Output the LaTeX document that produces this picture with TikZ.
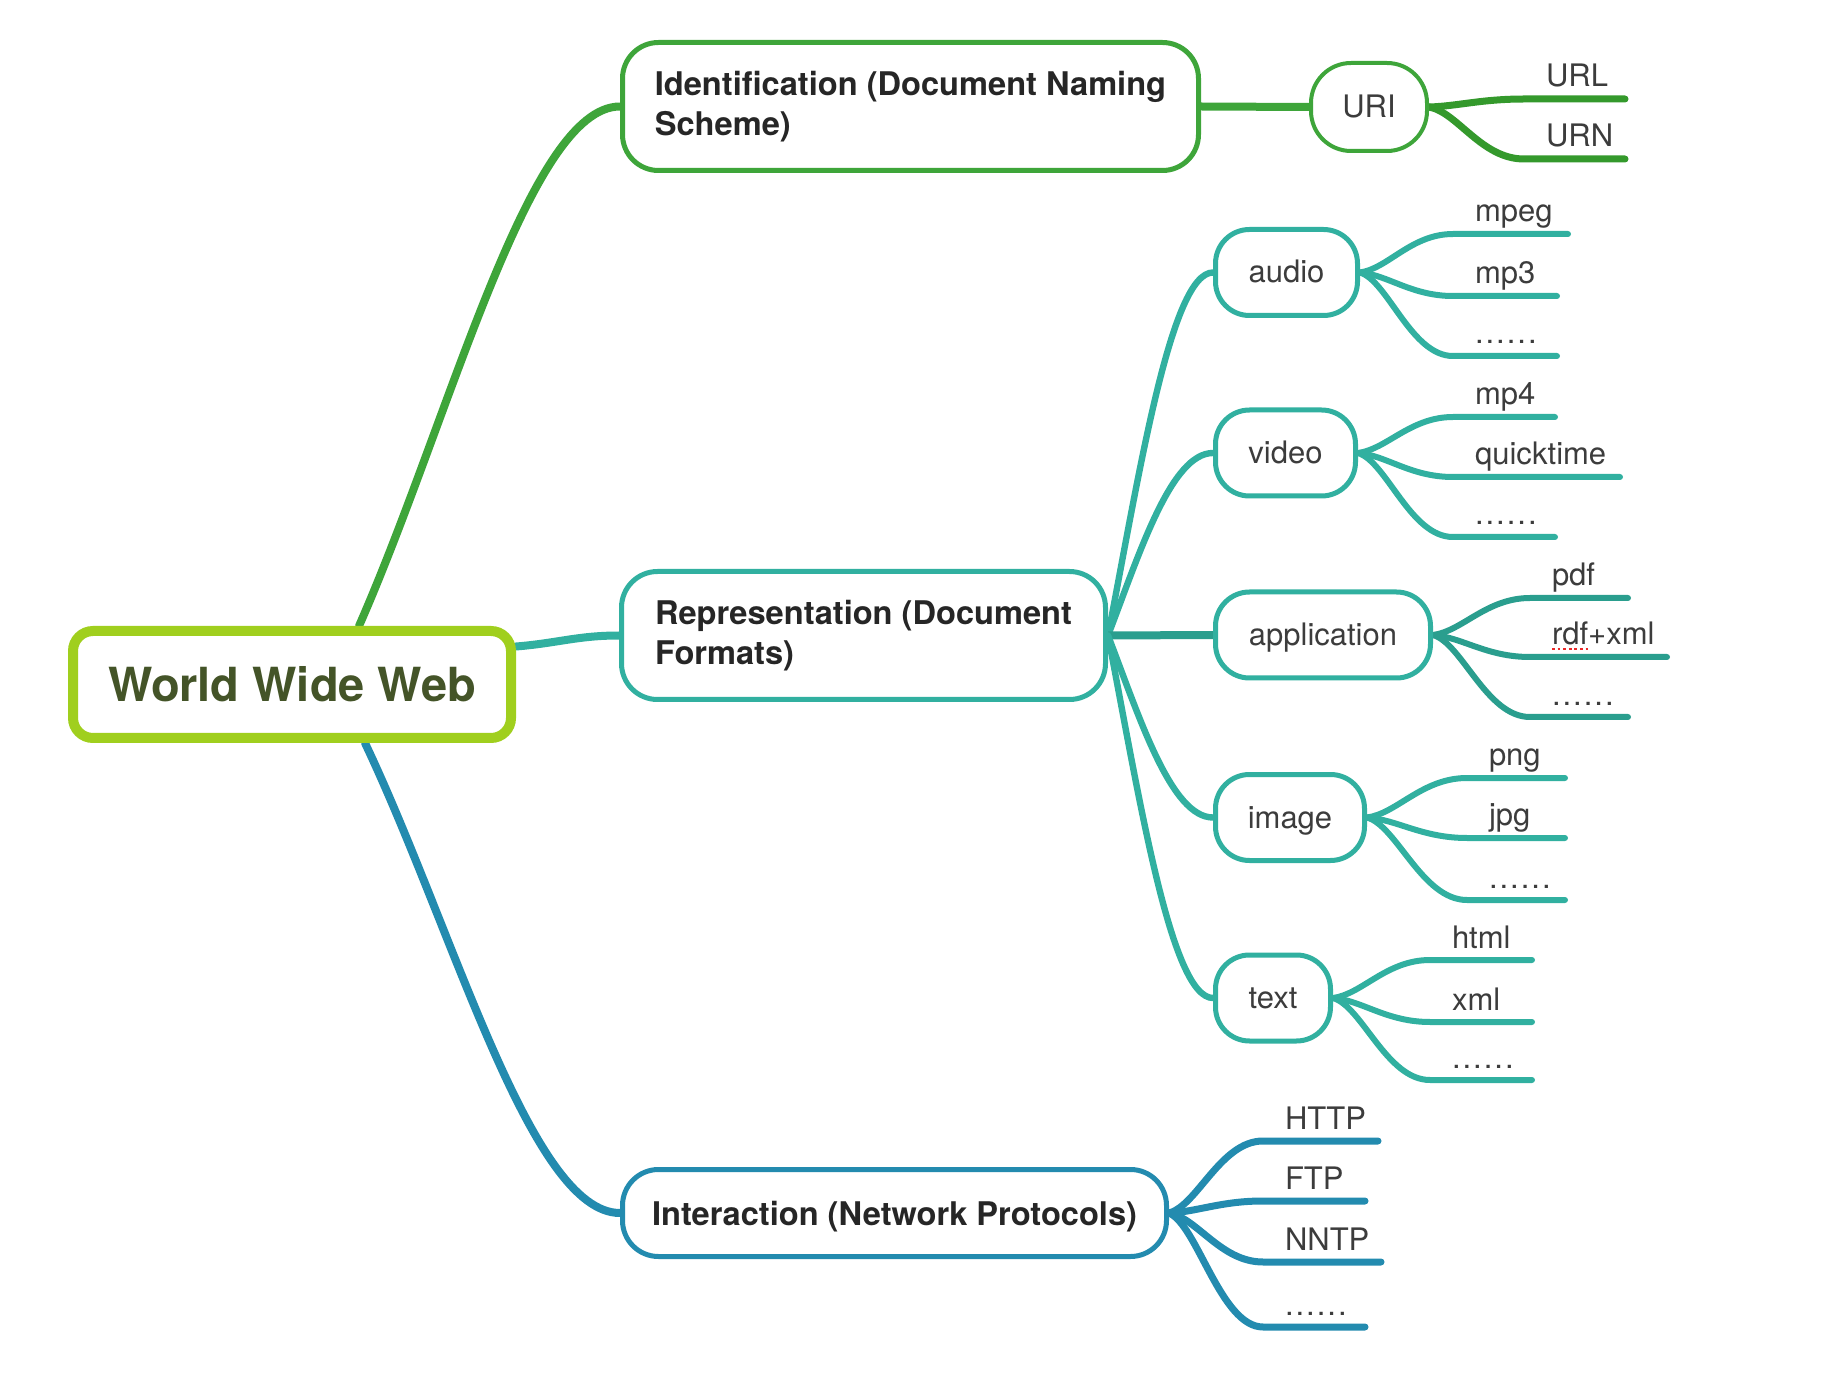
\documentclass[tikz,border=0pt]{standalone}
\usepackage{fontspec}
\setmainfont{TeX Gyre Heros}
\usetikzlibrary{backgrounds,calc}
\definecolor{cLime}{RGB}{160,207,30}
\definecolor{cOlive}{RGB}{68,84,40}
\definecolor{cGreen}{RGB}{62,165,58}
\definecolor{cGreenD}{RGB}{52,153,44}
\definecolor{cTeal}{RGB}{49,176,160}
\definecolor{cTealD}{RGB}{42,158,142}
\definecolor{cBlue}{RGB}{35,139,175}
\definecolor{cTxtB}{RGB}{38,38,38}
\definecolor{cTxtR}{RGB}{60,60,60}
\definecolor{cSquig}{RGB}{235,40,40}
\newcommand\sixdots{.\kern1pt.\kern1pt.\kern1pt.\kern1pt.\kern1pt.}
\tikzset{
  crv/.style n args={3}{to path={let \p1=(\tikztostart),\p2=(\tikztotarget) in
     .. controls +({#1*(\x2-\x1)},{#2*(\y2-\y1)}) and +({-#3*(\x2-\x1)},0pt) .. (\tikztotarget)}},
  big/.style={crv={0.3}{0.45}{0.4}},
  lf/.style={crv={0.3}{0.1}{0.45}},
  rootbox/.style={draw=cLime, line width=5pt, fill=white, rounded corners=10pt,
     minimum width=219pt, minimum height=53.5pt, inner sep=0pt, text=cOlive,
     font=\fontsize{23.5pt}{28pt}\selectfont\bfseries, text height=17pt, text depth=0pt},
  mainbox/.style={draw=#1, line width=2.5pt, fill=white, rounded corners=18pt, inner sep=0pt,
     align=left, text=cTxtB, font=\fontsize{16.3pt}{20pt}\selectfont\bfseries},
  subbox/.style={draw=#1, line width=2.5pt, fill=white, rounded corners=17pt, minimum height=43pt,
     inner sep=0pt, text=cTxtR, font=\fontsize{15.5pt}{18pt}\selectfont, text height=11.5pt, text depth=1pt},
  leaf/.style={anchor=south west, inner xsep=0pt, inner ysep=6pt, outer sep=0pt, text depth=0pt,
     text width=#1, align=left, text=cTxtR, font=\fontsize{15.5pt}{18pt}\selectfont,
     execute at begin node={\hspace*{11pt}}},
  trunk/.style={draw=#1, line width=4pt, line cap=round},
  twig/.style={draw=#1, line width=3.2pt, line cap=round},
  leafline/.style={draw=#1, line width=3pt, line cap=round},
}
\begin{document}
\begin{tikzpicture}[x=0.5pt,y=-0.5pt]
\useasboundingbox (0,0) rectangle (1844,1374);

% root
\node[rootbox] (root) at (292,684.5) {World Wide Web};

% level 1
\node[mainbox=cGreen, minimum width=288pt, minimum height=64pt] (ident) at (910.5,106.5)
  {Identification (Document Naming\\Scheme)};
\node[mainbox=cTeal, minimum width=242pt, minimum height=64pt] (rep) at (863.5,635.5)
  {Representation (Document\\Formats)};
\node[mainbox=cBlue, minimum width=272pt, minimum height=43.5pt, text height=12pt, text depth=0pt] (inter) at (894.5,1213)
  {Interaction (Network Protocols)};

% level 2
\node[subbox=cGreen, line width=2pt, minimum width=58pt, minimum height=44pt, rounded corners=20pt] (uri) at (1369,107) {URI};
\node[subbox=cTeal, minimum width=71pt] (audio) at (1286.5,272.5) {audio};
\node[subbox=cTeal, minimum width=70pt] (video) at (1285.5,453) {video};
\node[subbox=cTeal, minimum width=107.5pt] (application) at (1323,635) {application};
\node[subbox=cTeal, minimum width=74.5pt] (image) at (1290,817.5) {image};
\node[subbox=cTeal, minimum width=57.5pt] (txt) at (1273,998) {text};

% leaves
\node[leaf=50.5pt] (url) at (1524,99) {URL};
\node[leaf=50.5pt] (urn) at (1524,159) {URN};
\node[leaf=57.5pt] (mpeg) at (1453,234) {mpeg};
\node[leaf=52pt] (mpthree) at (1453,296) {mp3};
\node[leaf=52pt] (adots) at (1453,356) {\sixdots};
\node[leaf=51pt] (mpfour) at (1453,417) {mp4};
\node[leaf=83.5pt] (qt) at (1453,477) {quicktime};
\node[leaf=51pt] (vdots) at (1453,537) {\sixdots};
\node[leaf=49pt] (pdf) at (1530,598) {pdf};
\node[leaf=68.5pt] (rdfxml) at (1530,657) {rdf+xml};
\node[leaf=49pt] (apdots) at (1530,717) {\sixdots};
\node[leaf=49pt] (png) at (1467,778) {png};
\node[leaf=49pt] (jpg) at (1467,838) {jpg};
\node[leaf=49pt] (idots) at (1467,900) {\sixdots};
\node[leaf=51pt] (html) at (1430,960) {html};
\node[leaf=51pt] (xml) at (1430,1022) {xml};
\node[leaf=51pt] (tdots) at (1430,1080) {\sixdots};
\node[leaf=57.5pt] (http) at (1263,1141) {HTTP};
\node[leaf=51pt] (ftp) at (1263,1201) {FTP};
\node[leaf=59pt] (nntp) at (1263,1262) {NNTP};
\node[leaf=51pt] (ndots) at (1263,1327) {\sixdots};

% spell-check squiggle under "rdf"
\draw[cSquig, line width=1.4pt, dash pattern=on 1.4pt off 1.4pt]
  ([shift={(11pt,4pt)}]rdfxml.south west) -- ([shift={(29pt,4pt)}]rdfxml.south west);

\begin{pgfonlayer}{background}
% root branches
\draw[trunk=cGreen] ([xshift=33.5pt]root.north) to[crv={0.35}{0.4}{0.35}] (ident.west);
\draw[trunk=cTeal] ([yshift=19pt]root.east) to[crv={0.4}{0.3}{0.4}] (rep.west);
\draw[trunk=cBlue] ([xshift=36.5pt]root.south) to[crv={0.35}{0.4}{0.35}] (inter.west);

% identification
\draw[trunk=cGreen] (ident.east) -- (uri.west);
\draw[leafline=cGreenD, line width=3.5pt] (uri.east) to[lf] (url.south west) -- (url.south east);
\draw[leafline=cGreenD, line width=3.5pt] (uri.east) to[lf] (urn.south west) -- (urn.south east);

% representation
\draw[twig=cTeal] (rep.east) to[big] (audio.west);
\draw[twig=cTeal] (rep.east) to[big] (video.west);
\draw[trunk=cTealD] (rep.east) -- (application.west);
\draw[twig=cTeal] (rep.east) to[big] (image.west);
\draw[twig=cTeal] (rep.east) to[big] (txt.west);

\draw[leafline=cTeal] (audio.east) to[lf] (mpeg.south west) -- (mpeg.south east);
\draw[leafline=cTeal] (audio.east) to[lf] (mpthree.south west) -- (mpthree.south east);
\draw[leafline=cTeal] (audio.east) to[lf] (adots.south west) -- (adots.south east);

\draw[leafline=cTeal] (video.east) to[lf] (mpfour.south west) -- (mpfour.south east);
\draw[leafline=cTeal] (video.east) to[lf] (qt.south west) -- (qt.south east);
\draw[leafline=cTeal] (video.east) to[lf] (vdots.south west) -- (vdots.south east);

\draw[leafline=cTealD] (application.east) to[lf] (pdf.south west) -- (pdf.south east);
\draw[leafline=cTealD] (application.east) to[lf] (rdfxml.south west) -- (rdfxml.south east);
\draw[leafline=cTealD] (application.east) to[lf] (apdots.south west) -- (apdots.south east);

\draw[leafline=cTeal] (image.east) to[lf] (png.south west) -- (png.south east);
\draw[leafline=cTeal] (image.east) to[lf] (jpg.south west) -- (jpg.south east);
\draw[leafline=cTeal] (image.east) to[lf] (idots.south west) -- (idots.south east);

\draw[leafline=cTeal] (txt.east) to[lf] (html.south west) -- (html.south east);
\draw[leafline=cTeal] (txt.east) to[lf] (xml.south west) -- (xml.south east);
\draw[leafline=cTeal] (txt.east) to[lf] (tdots.south west) -- (tdots.south east);

% interaction
\draw[leafline=cBlue, line width=3.5pt] (inter.east) to[lf] (http.south west) -- (http.south east);
\draw[leafline=cBlue, line width=3.5pt] (inter.east) to[lf] (ftp.south west) -- (ftp.south east);
\draw[leafline=cBlue, line width=3.5pt] (inter.east) to[lf] (nntp.south west) -- (nntp.south east);
\draw[leafline=cBlue, line width=3.5pt] (inter.east) to[lf] (ndots.south west) -- (ndots.south east);
\end{pgfonlayer}
\end{tikzpicture}
\end{document}
